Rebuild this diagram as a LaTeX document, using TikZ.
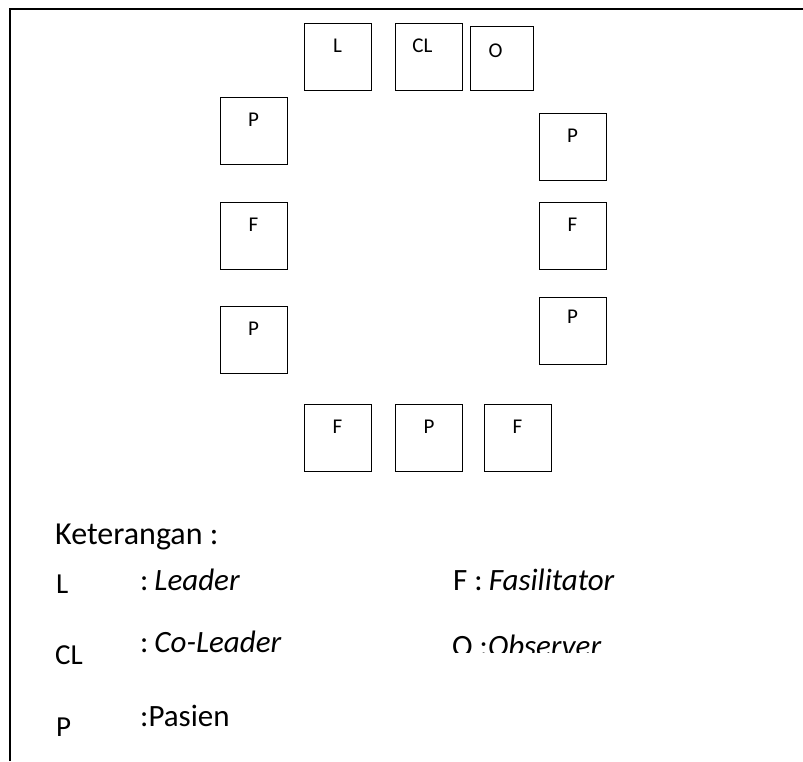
\documentclass[tikz,border=0pt]{standalone}
\usepackage{fontspec}
\setmainfont{Carlito}
\usetikzlibrary{positioning}

\begin{document}
\begin{tikzpicture}[x=1pt, y=-1pt,
    seat/.style={draw=black, line width=0.8pt, inner sep=0pt, minimum width=67pt,
        text height=29pt, text depth=38pt, font=\fontsize{21}{24}\selectfont},
    legend/.style={anchor=base west, inner sep=0pt, font=\fontsize{31}{36}\selectfont},
    key/.style={legend, font=\fontsize{29}{34}\selectfont}]
    \useasboundingbox (0,0) rectangle (803,761);

    % Frame (top and left edges only)
    \draw[line width=1.6pt] (10,761) -- (10,9) -- (803,9);

    % Top row
    \node[seat] (leader) at (337.5,56.5) {L};
    \node[seat] (coleader) at (428.5,56.5) {\hspace{-12pt}CL};
    \node[seat, minimum width=63pt, text height=31pt, text depth=33pt] (observer) at (501.5,58) {\hspace{-12pt}O};

    % Left column
    \node[seat] (pasienA) at (253.5,130.5) {P};
    \node[seat] (fasilA) at (253.5,235.5) {F};
    \node[seat] (pasienB) at (253.5,339.5) {P};

    % Right column
    \node[seat] (pasienC) at (572.5,146.5) {P};
    \node[seat] (fasilB) at (572.5,235.5) {F};
    \node[seat, text height=26pt, text depth=41pt] (pasienD) at (572.5,330.5) {P};

    % Bottom row
    \node[seat] (fasilC) at (337.5,437.5) {F};
    \node[seat] (pasienE) at (429,437.5) {P};
    \node[seat] (fasilD) at (517.5,437.5) {F};

    % Legend
    \node[legend, font=\fontsize{32}{37}\selectfont] (ket) at (55,544) {Keterangan :};
    \node[key] (kL) at (56,593) {L};
    \node[legend] (dL) at (140,590) {:\hspace{6pt}\textit{Leader}};
    \node[legend] (dF) at (453,590) {F :\hspace{6pt}\textit{Fasilitator}};
    \node[key] (kCL) at (55,664) {CL};
    \node[legend] (dCL) at (140,652) {:\hspace{6pt}\textit{Co-Leader}};
    \begin{scope}
        \clip (440,600) rectangle (700,652);
        \node[legend] (dO) at (452,656) {O :\textit{Observer}};
    \end{scope}
    \node[key] (kP) at (56,736) {P};
    \node[legend] (dP) at (140,726) {:Pasien};
\end{tikzpicture}
\end{document}
